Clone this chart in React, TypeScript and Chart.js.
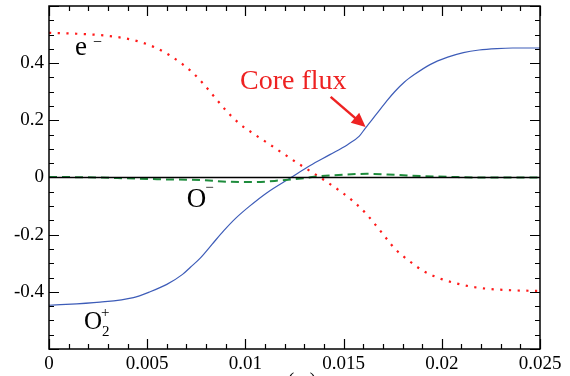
import React, { useEffect, useRef } from 'react';
import { Chart, registerables } from 'chart.js';

Chart.register(...registerables);

// ---- data ----
const electronX = [0, 0.0014, 0.0028, 0.0037, 0.0045, 0.0054, 0.0062, 0.00725, 0.00784, 0.00844, 0.00903, 0.00967, 0.01039, 0.01114, 0.01188, 0.01264, 0.01339, 0.01414, 0.01487, 0.01557, 0.01619, 0.01677, 0.0172, 0.01762, 0.01831, 0.01904, 0.01986, 0.02071, 0.02159, 0.02245, 0.02337, 0.02427, 0.025];
const electronY = [0.506, 0.503, 0.497, 0.489, 0.477, 0.455, 0.425, 0.371, 0.329, 0.2805, 0.233, 0.19, 0.154, 0.12, 0.086, 0.051, 0.0185, -0.015, -0.05, -0.088, -0.13, -0.178, -0.215, -0.25, -0.29, -0.326, -0.352, -0.37, -0.383, -0.39, -0.394, -0.396, -0.397];

const o2plusX = [0, 0.0026, 0.0043, 0.0051, 0.006, 0.0068, 0.0072, 0.0077, 0.0083, 0.0089, 0.0095, 0.0102, 0.0111, 0.0123, 0.0133, 0.0143, 0.0152, 0.0158, 0.0161, 0.0167, 0.0172, 0.0176, 0.0181, 0.0186, 0.0194, 0.0203, 0.0211, 0.0219, 0.0228, 0.0236, 0.025];
const o2plusY = [-0.447, -0.436, -0.42, -0.401, -0.374, -0.339, -0.314, -0.282, -0.234, -0.186, -0.143, -0.101, -0.053, -0.001, 0.042, 0.08, 0.115, 0.145, 0.172, 0.224, 0.268, 0.3, 0.334, 0.36, 0.395, 0.421, 0.437, 0.446, 0.451, 0.453, 0.453];

const ominusX = [0, 0.0026, 0.004, 0.0055, 0.0077, 0.0092, 0.0105, 0.0118, 0.013, 0.0137, 0.015, 0.0162, 0.0177, 0.019, 0.0205, 0.022, 0.025];
const ominusY = [0.002, 0.0, -0.003, -0.006, -0.009, -0.015, -0.016, -0.01, -0.002, 0.004, 0.01, 0.013, 0.009, 0.005, 0.002, 0.0, 0.0];

const zeroX = [0, 0.025];
const zeroY = [0, 0];

const xMin = 0, xMax = 0.025, xStep = 0.005, xMinorStep = 0.001;
const yMin = -0.6, yMax = 0.6, yStep = 0.2, yMinorStep = 0.05;
const xTitle = 'x (m)';

// label anchors in data coordinates
const labelElectron = { text: 'e', sup: '\u2212', x: 0.00132, y: 0.43 };
const labelOminus = { text: 'O', sup: '\u2212', x: 0.00701, y: -0.104 };
const labelO2plus = { text: 'O', sub: '2', sup: '+', x: 0.00178, y: -0.531 };
const coreFluxText = { text: 'Core flux', x: 0.009725, y: 0.309 };
const arrowFrom = { x: 0.01434, y: 0.282 };
const arrowTo = { x: 0.01612, y: 0.177 };

const SERIF = "'Liberation Serif', 'Times New Roman', serif";

Chart.defaults.font.family = SERIF;
Chart.defaults.font.size = 19;
Chart.defaults.color = '#000';

const toPts = (xs: number[], ys: number[]) => xs.map((x, i) => ({ x, y: ys[i] }));

const decorPlugin = {
  id: 'decor',
  afterDatasetsDraw(chart: any) {
    const { ctx, chartArea, scales } = chart;
    const { left, right, top, bottom } = chartArea;
    const xs = scales.x, ys = scales.y;
    ctx.save();
    ctx.strokeStyle = '#000';
    ctx.lineWidth = 1.5;
    ctx.strokeRect(left, top, right - left, bottom - top);
    ctx.lineWidth = 1.2;
    ctx.beginPath();
    const nx = Math.round((xMax - xMin) / xMinorStep);
    for (let i = 0; i <= nx; i++) {
      const v = xMin + i * xMinorStep;
      const p = Math.round(xs.getPixelForValue(v)) + 0.5;
      const len = i % Math.round(xStep / xMinorStep) === 0 ? 10 : 5;
      ctx.moveTo(p, bottom); ctx.lineTo(p, bottom - len);
      ctx.moveTo(p, top); ctx.lineTo(p, top + len);
    }
    const ny = Math.round((yMax - yMin) / yMinorStep);
    for (let i = 0; i <= ny; i++) {
      const v = yMin + i * yMinorStep;
      const p = Math.round(ys.getPixelForValue(v)) + 0.5;
      const len = i % Math.round(yStep / yMinorStep) === 0 ? 10 : 5;
      ctx.moveTo(left, p); ctx.lineTo(left + len, p);
      ctx.moveTo(right, p); ctx.lineTo(right - len, p);
    }
    ctx.stroke();

    ctx.fillStyle = '#000';
    ctx.textBaseline = 'alphabetic';
    ctx.textAlign = 'left';
    // e-
    {
      const px = xs.getPixelForValue(labelElectron.x), py = ys.getPixelForValue(labelElectron.y);
      ctx.font = `27px ${SERIF}`;
      ctx.fillText(labelElectron.text, px, py);
      const w = ctx.measureText(labelElectron.text).width;
      ctx.font = `16px ${SERIF}`;
      ctx.fillText(labelElectron.sup, px + w + 6, py - 8);
    }
    // O-
    {
      const px = xs.getPixelForValue(labelOminus.x), py = ys.getPixelForValue(labelOminus.y);
      ctx.font = `27px ${SERIF}`;
      ctx.fillText(labelOminus.text, px, py);
      const w = ctx.measureText(labelOminus.text).width;
      ctx.font = `15px ${SERIF}`;
      ctx.fillText(labelOminus.sup, px + w - 1, py - 15);
    }
    // O2+
    {
      const px = xs.getPixelForValue(labelO2plus.x), py = ys.getPixelForValue(labelO2plus.y);
      ctx.font = `25px ${SERIF}`;
      ctx.fillText(labelO2plus.text, px, py);
      const w = ctx.measureText(labelO2plus.text).width;
      ctx.font = `15px ${SERIF}`;
      ctx.fillText(labelO2plus.sub, px + w, py + 7);
      ctx.fillText(labelO2plus.sup, px + w - 1, py - 12);
    }
    // Core flux
    {
      const px = xs.getPixelForValue(coreFluxText.x), py = ys.getPixelForValue(coreFluxText.y);
      ctx.fillStyle = '#ee2222';
      ctx.font = `28px ${SERIF}`;
      ctx.fillText(coreFluxText.text, px, py);
      const x1 = xs.getPixelForValue(arrowFrom.x), y1 = ys.getPixelForValue(arrowFrom.y);
      const x2 = xs.getPixelForValue(arrowTo.x), y2 = ys.getPixelForValue(arrowTo.y);
      const dx = x2 - x1, dy = y2 - y1, L = Math.hypot(dx, dy);
      const ux = dx / L, uy = dy / L;
      const hl = 14, hw = 6.5;
      const bx = x2 - ux * hl, by = y2 - uy * hl;
      ctx.strokeStyle = '#ee2222';
      ctx.lineWidth = 2.5;
      ctx.beginPath();
      ctx.moveTo(x1, y1); ctx.lineTo(bx + ux * 2, by + uy * 2);
      ctx.stroke();
      ctx.beginPath();
      ctx.moveTo(x2, y2);
      ctx.lineTo(bx - uy * hw, by + ux * hw);
      ctx.lineTo(bx + uy * hw, by - ux * hw);
      ctx.closePath();
      ctx.fill();
    }
    ctx.restore();
  },
};

export default function App() {
  const ref = useRef<HTMLCanvasElement>(null);
  useEffect(() => {
    document.body.style.margin = '0';
    const canvas = ref.current!;
    const chart = new Chart(canvas, {
      type: 'line',
      data: {
        datasets: [
          {
            label: 'zero',
            data: toPts(zeroX, zeroY),
            borderColor: '#000',
            borderWidth: 1.5,
            pointRadius: 0,
          },
          {
            label: 'O-',
            data: toPts(ominusX, ominusY),
            borderColor: '#1e8c3c',
            borderWidth: 2,
            borderDash: [8, 5],
            pointRadius: 0,
            cubicInterpolationMode: 'monotone',
          },
          {
            label: 'O2+',
            data: toPts(o2plusX, o2plusY),
            borderColor: '#3d5cb8',
            borderWidth: 1.2,
            pointRadius: 0,
            cubicInterpolationMode: 'monotone',
          },
          {
            label: 'e-',
            data: toPts(electronX, electronY),
            borderColor: '#ff1a1a',
            borderWidth: 2.2,
            borderDash: [2.2, 6.5],
            pointRadius: 0,
            cubicInterpolationMode: 'monotone',
          },
        ],
      },
      options: {
        animation: false,
        responsive: false,
        devicePixelRatio: 1,
        layout: { padding: { top: 6, right: 30, left: 0, bottom: 0 } },
        plugins: { legend: { display: false }, tooltip: { enabled: false } },
        scales: {
          x: {
            type: 'linear',
            min: xMin,
            max: xMax,
            grid: { display: false, drawTicks: false },
            border: { display: false },
            ticks: {
              stepSize: xStep,
              autoSkip: false,
              maxRotation: 0,
              padding: 4,
              color: '#000',
              font: { family: SERIF, size: 19 },
              callback: (v: any) => String(parseFloat(Number(v).toFixed(3))),
            },
            title: {
              display: true,
              text: xTitle,
              color: '#000',
              font: { family: SERIF, size: 20 },
              padding: { top: 0, bottom: -18 },
            },
            afterFit: (s: any) => { s.height = 27; s.paddingLeft = 0; s.paddingRight = 0; },
          },
          y: {
            type: 'linear',
            min: yMin,
            max: yMax,
            grid: { display: false, drawTicks: false },
            border: { display: false },
            ticks: {
              stepSize: yStep,
              padding: 5,
              color: '#000',
              font: { family: SERIF, size: 19 },
              callback: (v: any) => (Math.abs(Number(v)) > 0.5 ? '' : String(Math.round(Number(v) * 10) / 10 || 0)),
            },
            afterFit: (s: any) => { s.width = 49; s.paddingTop = 0; s.paddingBottom = 0; },
          },
        },
      },
      plugins: [decorPlugin],
    });
    return () => chart.destroy();
  }, []);
  return (
    <div style={{ width: 570, height: 376 }}>
      <canvas ref={ref} width={570} height={376} style={{ display: 'block' }} />
    </div>
  );
}
